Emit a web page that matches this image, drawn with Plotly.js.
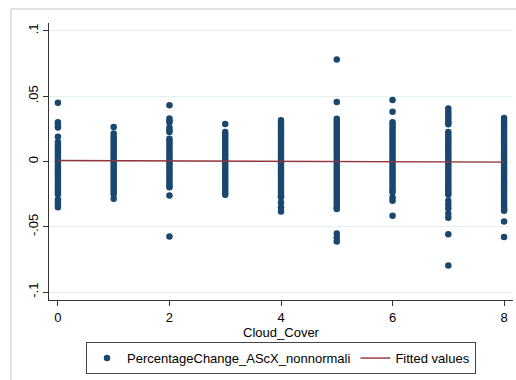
<!DOCTYPE html>
<html>
<head>
<meta charset="utf-8">
<script src="https://cdn.plot.ly/plotly-3.0.1.min.js"></script>
<style>html,body{margin:0;padding:0;background:#fff;}#chart{width:516px;height:380px;}</style>
</head>
<body>
<div id="chart"></div>
<script>
// Cloud_Cover categories
const cloudCover = [0, 1, 2, 3, 4, 5, 6, 7, 8];
// PercentageChange_AScX_nonnormali values, one array per Cloud_Cover level
const pc0 = [0.045, 0.030, 0.028, 0.026, 0.019, 0.015, 0.013, 0.011, 0.009, 0.007, 0.005, 0.003, 0.001, -0.001, -0.003, -0.005, -0.007, -0.009, -0.011, -0.013, -0.015, -0.017, -0.019, -0.021, -0.023, -0.025, -0.029, -0.031, -0.033, -0.035];
const pc1 = [0.0265, 0.0215, 0.019, 0.017, 0.015, 0.013, 0.011, 0.009, 0.007, 0.005, 0.003, 0.001, -0.001, -0.003, -0.005, -0.007, -0.009, -0.011, -0.013, -0.015, -0.017, -0.019, -0.021, -0.023, -0.025, -0.0285];
const pc2 = [0.043, 0.033, 0.031, 0.030, 0.026, 0.024, 0.0225, 0.0175, 0.0155, 0.0135, 0.0115, 0.0095, 0.0075, 0.0055, 0.0035, 0.0015, -0.0005, -0.0025, -0.0045, -0.0065, -0.0085, -0.0105, -0.0125, -0.0145, -0.0165, -0.0185, -0.0197, -0.026, -0.0574];
const pc3 = [0.0287, 0.0226, 0.0205, 0.0185, 0.0165, 0.0145, 0.0125, 0.0105, 0.0085, 0.0065, 0.0045, 0.0025, 0.0005, -0.0015, -0.0035, -0.0055, -0.0075, -0.0095, -0.0115, -0.0135, -0.0155, -0.0175, -0.0195, -0.0215, -0.0235, -0.0255];
const pc4 = [0.0315, 0.0295, 0.0275, 0.0255, 0.0235, 0.0215, 0.0195, 0.0175, 0.0155, 0.0135, 0.0115, 0.0095, 0.0075, 0.0055, 0.0035, 0.0015, -0.0005, -0.0025, -0.0045, -0.0065, -0.0085, -0.0105, -0.0125, -0.0145, -0.0165, -0.0185, -0.0205, -0.0225, -0.0245, -0.0265, -0.0274, -0.0313, -0.0351, -0.0382];
const pc5 = [0.078, 0.0456, 0.0328, 0.0308, 0.0288, 0.0268, 0.0248, 0.0228, 0.0208, 0.0188, 0.0168, 0.0148, 0.0128, 0.0108, 0.0088, 0.0068, 0.0048, 0.0028, 0.0008, -0.0012, -0.0032, -0.0052, -0.0072, -0.0092, -0.0112, -0.0132, -0.0152, -0.0172, -0.0192, -0.0212, -0.0232, -0.0252, -0.0272, -0.0292, -0.0312, -0.0332, -0.0352, -0.0364, -0.0551, -0.0582, -0.0613];
const pc6 = [0.047, 0.038, 0.030, 0.028, 0.026, 0.024, 0.022, 0.020, 0.018, 0.016, 0.014, 0.012, 0.010, 0.008, 0.006, 0.004, 0.002, 0.000, -0.002, -0.004, -0.006, -0.008, -0.010, -0.012, -0.014, -0.016, -0.018, -0.020, -0.022, -0.0236, -0.0275, -0.0300, -0.0415];
const pc7 = [0.0405, 0.038, 0.036, 0.034, 0.032, 0.030, 0.0285, 0.0226, 0.0205, 0.0185, 0.0165, 0.0145, 0.0125, 0.0105, 0.0085, 0.0065, 0.0045, 0.0025, 0.0005, -0.0015, -0.0035, -0.0055, -0.0075, -0.0095, -0.0115, -0.0135, -0.0155, -0.0175, -0.0195, -0.0215, -0.0235, -0.0255, -0.0300, -0.0330, -0.0360, -0.0400, -0.0430, -0.0556, -0.0795];
const pc8 = [0.0333, 0.0313, 0.0293, 0.0273, 0.0253, 0.0233, 0.0213, 0.0193, 0.0173, 0.0153, 0.0133, 0.0113, 0.0093, 0.0073, 0.0053, 0.0033, 0.0013, -0.0007, -0.0027, -0.0047, -0.0067, -0.0087, -0.0107, -0.0127, -0.0147, -0.0167, -0.0187, -0.0207, -0.0227, -0.0247, -0.0267, -0.0287, -0.0307, -0.0327, -0.0347, -0.0365, -0.0377, -0.046, -0.0577];
// Fitted values (linear fit) at the ends of the Cloud_Cover range
const fitX = [0, 8];
const fitY = [0.0008, -0.0005];
// Tick labels
const xTickVals = [0, 2, 4, 6, 8];
const yTickVals = [0.1, 0.05, 0, -0.05, -0.1];
const yTickText = [".1", ".05", "0", "-.05", "-.1"];

const groups = [pc0, pc1, pc2, pc3, pc4, pc5, pc6, pc7, pc8];
const sx = [], sy = [];
groups.forEach((g, i) => g.forEach(v => { sx.push(cloudCover[i]); sy.push(v); }));

const font = "Liberation Sans, Arial, sans-serif";
const traces = [
  {
    type: "scatter", mode: "markers", x: sx, y: sy,
    name: "PercentageChange_AScX_nonnormali",
    marker: {color: "#1a476f", size: 6.5, line: {width: 0}}
  },
  {
    type: "scatter", mode: "lines", x: fitX, y: fitY,
    name: "Fitted values",
    line: {color: "#90353b", width: 1.4}
  }
];

const layout = {
  width: 516, height: 380,
  margin: {l: 49, r: 3, t: 23, b: 80},
  paper_bgcolor: "#fff", plot_bgcolor: "#fff",
  font: {family: font, size: 13, color: "#000"},
  showlegend: true,
  legend: {
    orientation: "h", x: 0.5, xanchor: "center", y: -0.152, yanchor: "top",
    bordercolor: "#444", borderwidth: 1, font: {size: 13, family: font},
    traceorder: "normal"
  },
  xaxis: {
    range: [-0.16, 8.16], tickvals: xTickVals, ticks: "outside", ticklen: 5, tickcolor: "#333",
    showline: true, linecolor: "#333", linewidth: 1, showgrid: false, zeroline: false,
    tickfont: {size: 13}, title: {text: "Cloud_Cover", font: {size: 13}, standoff: 2},
    automargin: false
  },
  yaxis: {
    range: [-0.106, 0.106], tickvals: yTickVals, ticktext: yTickText, tickangle: -90,
    ticks: "outside", ticklen: 5, tickcolor: "#333",
    showline: true, linecolor: "#333", linewidth: 1,
    showgrid: true, gridcolor: "#e6eff1", gridwidth: 1, zeroline: false,
    tickfont: {size: 13}, automargin: false
  },
  shapes: [
    {type: "line", xref: "paper", yref: "paper", x0: -0.082, x1: 1.05, y0: 1.0505, y1: 1.0505, line: {color: "#c4c4c4", width: 1}},
    {type: "line", xref: "paper", yref: "paper", x0: -0.082, x1: -0.082, y0: 1.0505, y1: -0.35, line: {color: "#c4c4c4", width: 1}}
  ]
};

Plotly.newPlot("chart", traces, layout, {displayModeBar: false, staticPlot: true});
</script>
</body>
</html>
